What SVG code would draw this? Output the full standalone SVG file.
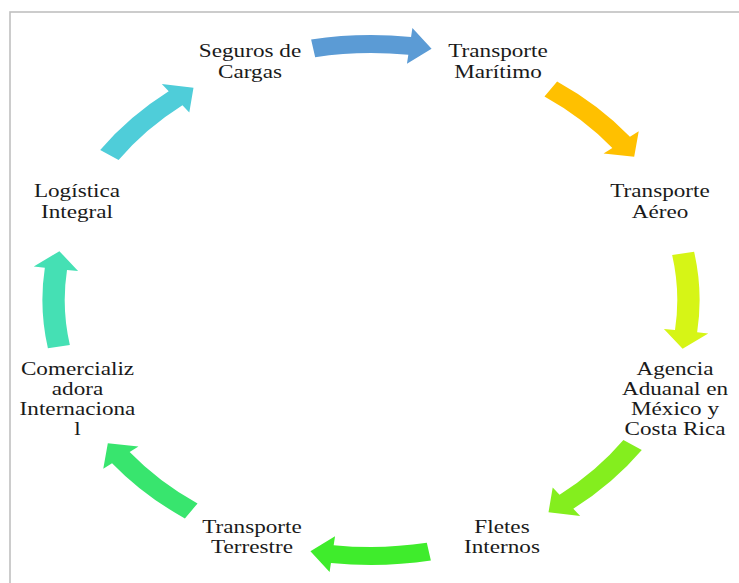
<svg xmlns="http://www.w3.org/2000/svg" xmlns:xlink="http://www.w3.org/1999/xlink" width="739" height="583" viewBox="0 0 739 583">
<style>
.lbl{font-family:"Liberation Serif","Times New Roman",serif;font-size:19px;fill:#1a1a1a;text-anchor:middle}
</style>
<defs>
<path id="arrow" d="M -48.29 -260.56 A 265 265 0 0 1 32.30 -263.03 L 33.39 -271.96 L 48.85 -251.30 L 29.00 -236.23 L 30.10 -245.16 A 247 247 0 0 0 -45.01 -242.86 Z"/>
</defs>
<rect x="0" y="0" width="739" height="583" fill="#ffffff"/>
<rect x="10" y="12" width="760" height="600" fill="none" stroke="#c0c0c0" stroke-width="1.6"/>
<g id="connectors" transform="translate(371 300) scale(1.24 1)">
<use href="#arrow" xlink:href="#arrow" fill="#5B9BD5"/>
<use href="#arrow" xlink:href="#arrow" transform="rotate(45)" fill="#FFC000"/>
<use href="#arrow" xlink:href="#arrow" transform="rotate(90)" fill="#D6F516"/>
<use href="#arrow" xlink:href="#arrow" transform="rotate(135)" fill="#84EE1E"/>
<use href="#arrow" xlink:href="#arrow" transform="rotate(180)" fill="#3FEC2C"/>
<use href="#arrow" xlink:href="#arrow" transform="rotate(225)" fill="#38E56E"/>
<use href="#arrow" xlink:href="#arrow" transform="rotate(270)" fill="#45E0B4"/>
<use href="#arrow" xlink:href="#arrow" transform="rotate(315)" fill="#4FCDD9"/>
</g>
<g id="seguros">
<text class="lbl" transform="translate(250 57) scale(1.22 1)"><tspan x="0" y="0">Seguros de</tspan><tspan x="0" y="21">Cargas</tspan></text>
</g>
<g id="maritimo">
<text class="lbl" transform="translate(498 57) scale(1.22 1)"><tspan x="0" y="0">Transporte</tspan><tspan x="0" y="21">Marítimo</tspan></text>
</g>
<g id="aereo">
<text class="lbl" transform="translate(660 197) scale(1.22 1)"><tspan x="0" y="0">Transporte</tspan><tspan x="0" y="21">Aéreo</tspan></text>
</g>
<g id="agencia">
<text class="lbl" transform="translate(675 375) scale(1.22 1)"><tspan x="0" y="0">Agencia</tspan><tspan x="0" y="20">Aduanal en</tspan><tspan x="0" y="40">México y</tspan><tspan x="0" y="60">Costa Rica</tspan></text>
</g>
<g id="fletes">
<text class="lbl" transform="translate(502 533) scale(1.22 1)"><tspan x="0" y="0">Fletes</tspan><tspan x="0" y="20.5">Internos</tspan></text>
</g>
<g id="terrestre">
<text class="lbl" transform="translate(252 533) scale(1.22 1)"><tspan x="0" y="0">Transporte</tspan><tspan x="0" y="20.5">Terrestre</tspan></text>
</g>
<g id="comercializadora">
<text class="lbl" transform="translate(77.5 375) scale(1.22 1)"><tspan x="0" y="0">Comercializ</tspan><tspan x="0" y="20">adora</tspan><tspan x="0" y="40">Internaciona</tspan><tspan x="0" y="60">l</tspan></text>
</g>
<g id="logistica">
<text class="lbl" transform="translate(77 197) scale(1.22 1)"><tspan x="0" y="0">Logística</tspan><tspan x="0" y="21">Integral</tspan></text>
</g>
</svg>
